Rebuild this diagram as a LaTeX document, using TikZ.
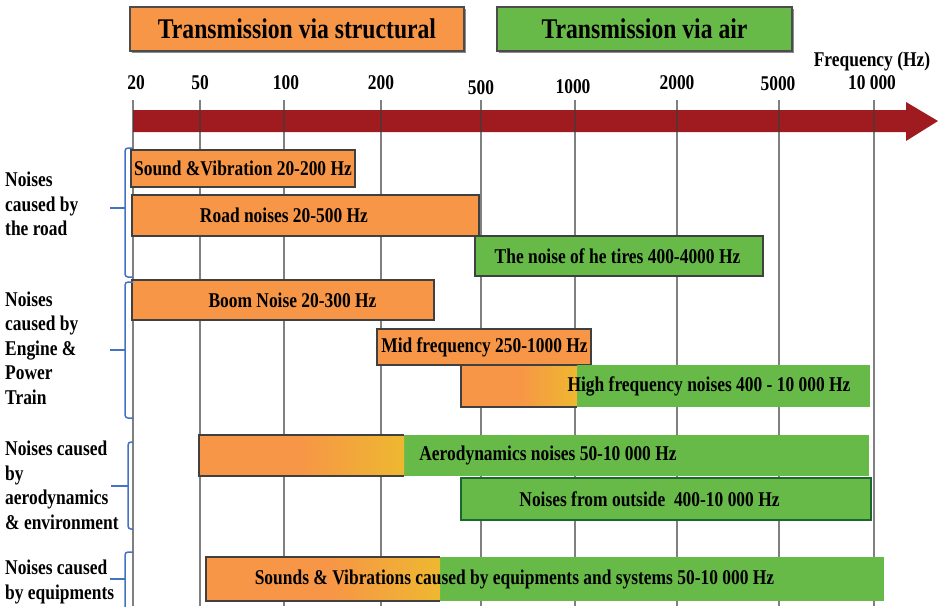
\documentclass[tikz,border=0pt]{standalone}
\usepackage{fontspec}
\setmainfont[FakeStretch=0.83]{Liberation Serif}

\definecolor{barorange}{RGB}{247,150,70}
\definecolor{baryellow}{RGB}{238,184,48}
\definecolor{bargreen}{RGB}{103,186,72}
\definecolor{darkgreen}{RGB}{25,105,45}
\definecolor{arrowred}{RGB}{160,27,32}
\definecolor{bracketblue}{RGB}{68,114,196}
\definecolor{gridgray}{RGB}{60,60,60}

\begin{document}
\begin{tikzpicture}
          [x=1pt,y=1pt,every node/.style={font=\bfseries\fontsize{21}{24.5}\selectfont,inner sep=0pt},
           orangebar/.style={fill=barorange,draw=black!75,line width=1.2pt},
           greenbar/.style={fill=bargreen,draw=black!75,line width=1.2pt},
           fadebar/.style={left color=barorange,right color=baryellow},
           outline/.style={draw=black!75,line width=1.2pt},
           gridline/.style={gridgray,opacity=0.65,line width=2.5pt},
           bracket/.style={bracketblue,line width=1.5pt,rounded corners=3pt},
           titlebox/.style={draw=black!70,line width=1.5pt,minimum height=44pt,font=\bfseries\fontsize{28.5}{30}\selectfont}]

          \useasboundingbox (0,0) rectangle (938,-606);

          % frequency axis
          \fill[arrowred] (133,-110) -- (906,-110) -- (906,-102) -- (938,-121) -- (906,-141) -- (906,-132) -- (133,-132) -- cycle;
          \foreach \x/\lx/\ly/\f [count=\i] in {133/136/83/20, 200/200/83/50, 284/286/83/100, 381/381/83/200,
                    481/481/88/500, 575/573/87/1000, 677/677/83/2000, 779/778/84/5000, 874/872/83/{10 000}}
            {
              \draw[gridline] (\x,-100) -- (\x,-606);
              \node (tick\i) at (\lx,-\ly) {\f};
            }
          \node (freq) at (872,-61) {Frequency (Hz)};

          % title boxes
          \fill[black!45] (132,-9) rectangle (466,-53);
          \node[titlebox,fill=barorange,minimum width=334pt] (structural) at (297,-29) {Transmission via structural};
          \fill[black!45] (499,-9) rectangle (794,-53);
          \node[titlebox,fill=bargreen,minimum width=295pt] (air) at (644.5,-29) {Transmission via air};

          % road
          \draw[orangebar] (131,-150) rectangle (355,-187);
          \node (soundvib) at (243,-168.5) {Sound \&Vibration 20-200 Hz};
          \draw[orangebar] (132,-195) rectangle (479,-236);
          \node (roadnoise) at (284,-215.5) {Road noises 20-500 Hz};
          \draw[greenbar] (475,-236) rectangle (763,-276);
          \node (tires) at (617.5,-256) {The noise of he tires 400-4000 Hz};

          % engine and power train
          \draw[orangebar] (132,-280) rectangle (434,-320);
          \node (boom) at (292.5,-300) {Boom Noise 20-300 Hz};
          \draw[orangebar] (377,-329) rectangle (591,-365);
          \node (midfreq) at (484.5,-347) {Mid frequency 250-1000 Hz};
          \fill[bargreen] (577,-365) rectangle (870,-407);
          \fill[barorange] (461,-365) rectangle (520,-407);
          \shade[fadebar] (520,-365) rectangle (577,-407);
          \draw[outline] (577,-365) -- (461,-365) -- (461,-407) -- (577,-407);
          \node (highfreq) at (709,-386) {High frequency noises 400 - 10 000 Hz};

          % aerodynamics and environment
          \fill[bargreen] (404,-435) rectangle (869,-476);
          \fill[barorange] (199,-435) rectangle (300,-476);
          \shade[fadebar] (300,-435) rectangle (404,-476);
          \draw[outline] (404,-435) -- (199,-435) -- (199,-476) -- (404,-476);
          \node (aerodyn) at (548,-455.5) {Aerodynamics noises 50-10 000 Hz};
          \draw[fill=bargreen,draw=darkgreen,line width=2pt] (461,-478) rectangle (871,-520);
          \node (outside) at (649.5,-499) {Noises from outside~ 400-10 000 Hz};

          % equipments
          \fill[bargreen] (440,-557) rectangle (884,-601);
          \fill[barorange] (206,-557) rectangle (330,-601);
          \shade[fadebar] (330,-557) rectangle (440,-601);
          \draw[outline] (440,-557) -- (206,-557) -- (206,-601) -- (440,-601);
          \node (equipbar) at (514.5,-579) {Sounds \& Vibrations caused by equipments and systems 50-10 000 Hz};

          % groups
          \node[anchor=west,align=left] (roadsrc) at (5,-204) {Noises\\caused by\\the road};
          \node[anchor=west,align=left] (enginesrc) at (5,-348) {Noises\\caused by\\Engine \&\\Power\\Train};
          \node[anchor=west,align=left] (aerosrc) at (5,-485.5) {Noises caused\\by\\aerodynamics\\\& environment};
          \node[anchor=west,align=left] (equipsrc) at (5,-582) {Noises caused\\by equipments};

          \draw[bracket] (133,-148) -- (125,-148) -- (125,-277) -- (133,-277);
          \draw[bracket] (125,-208) -- (110,-208);
          \draw[bracket] (133,-282) -- (125,-282) -- (125,-418) -- (133,-418);
          \draw[bracket] (125,-350) -- (110,-350);
          \draw[bracket] (133,-442) -- (128,-442) -- (128,-529) -- (133,-529);
          \draw[bracket] (128,-486) -- (111,-486);
          \draw[bracket] (133,-552) -- (125,-552) -- (125,-610);
          \draw[bracket] (125,-579) -- (110,-579);
        \end{tikzpicture}
\end{document}
